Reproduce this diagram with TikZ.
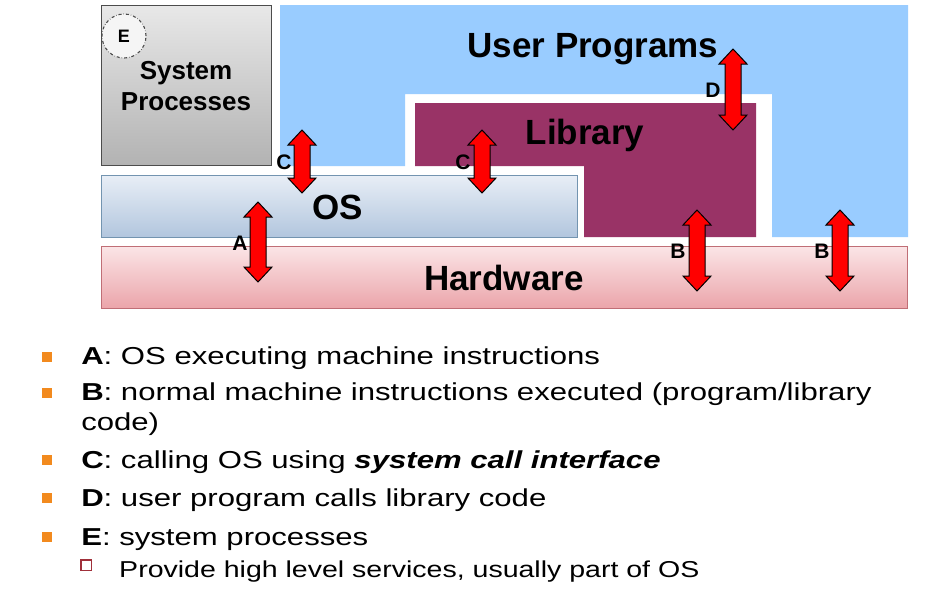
\documentclass[tikz,border=0pt]{standalone}
\usepackage{fontspec}
\setmainfont{Liberation Sans}
\begin{document}
\begin{tikzpicture}[x=1pt,y=-1pt,
  bigtext/.style={font=\fontsize{35}{40}\selectfont\bfseries, inner sep=0pt},
  arrlabel/.style={font=\fontsize{21}{23}\selectfont\bfseries, inner sep=0pt},
  arrowshape/.style={fill=red, draw=black, line width=1pt, line join=miter},
  bullettext/.style={font=\fontsize{24.5}{28}\selectfont, anchor=base west, inner sep=0pt, xscale=1.27},
  subtext/.style={font=\fontsize{23}{26}\selectfont, anchor=base west, inner sep=0pt, xscale=1.24},
  bulletsq/.style={fill=bulletorange, draw=none, minimum size=10.5pt, inner sep=0pt},
  subsq/.style={fill=white, draw=subred, line width=1.5pt, minimum size=10.5pt, inner sep=0pt}
]
\definecolor{userblue}{HTML}{99CCFF}
\definecolor{libmaroon}{HTML}{993366}
\definecolor{bulletorange}{HTML}{F28A1E}
\definecolor{subred}{HTML}{A0303A}
\useasboundingbox (0,0) rectangle (927,595);
\fill[white] (0,0) rectangle (927,595);

% User programs region
\fill[userblue] (280,5) -- (908,5) -- (908,237) -- (772,237) -- (772,94) -- (405,94) -- (405,166) -- (280,166) -- cycle;
% Library region
\fill[libmaroon] (415,103) -- (756,103) -- (756,237) -- (584,237) -- (584,166) -- (415,166) -- cycle;
% System processes
\draw[draw=black!70, line width=1pt, top color=black!9, bottom color=black!30] (101,5) rectangle (271,165);
% OS
\draw[draw={rgb,255:red,115;green,148;blue,176}, line width=1pt,
  top color={rgb,255:red,232;green,238;blue,246}, bottom color={rgb,255:red,178;green,198;blue,222}] (101,175) rectangle (577,237);
% Hardware
\draw[draw={rgb,255:red,192;green,110;blue,118}, line width=1pt,
  top color={rgb,255:red,251;green,229;blue,231}, bottom color={rgb,255:red,235;green,165;blue,170}] (101,246) rectangle (907,308);

% texts
\node[bigtext] (user) at (593,49) {User Programs};
\node[bigtext] (lib) at (585,135) {Library};
\node[bigtext] (os) at (338,207) {OS};
\node[bigtext] (hw) at (504,278) {Hardware};
\node[font=\fontsize{26}{31}\selectfont\bfseries, align=center, inner sep=0pt] (sys) at (186,86) {System\\Processes};
\node[circle, draw=black!70, dash dot, line width=1.1pt, fill=white!96!black, minimum size=44pt, inner sep=0pt,
  font=\fontsize{18}{20}\selectfont\bfseries] (E) at (124,36) {E};

% double block arrows
\newcommand{\dblarrow}[3]{%
  \draw[arrowshape] (#1,#2) -- ({#1+14},{#2+15}) -- ({#1+8},{#2+15}) -- ({#1+8},{#3-15}) -- ({#1+14},{#3-15})
    -- (#1,#3) -- ({#1-14},{#3-15}) -- ({#1-8},{#3-15}) -- ({#1-8},{#2+15}) -- ({#1-14},{#2+15}) -- cycle;}
\dblarrow{302}{130}{193}
\dblarrow{258}{202}{282}
\dblarrow{482}{130}{193}
\dblarrow{733}{49}{130}
\dblarrow{697}{210}{291}
\dblarrow{840}{210}{291}

\node[arrlabel] (lc1) at (284,162) {C};
\node[arrlabel] (la) at (240,243) {A};
\node[arrlabel] (lc2) at (463,162) {C};
\node[arrlabel] (ld) at (713,90) {D};
\node[arrlabel] (lb1) at (678,251) {B};
\node[arrlabel] (lb2) at (822,251) {B};

% bullets
\node[bulletsq] (b1) at (47,357) {};
\node[bulletsq] (b2) at (47,393) {};
\node[bulletsq] (b3) at (47,460) {};
\node[bulletsq] (b4) at (47,498) {};
\node[bulletsq] (b5) at (47,537) {};
\node[subsq] (s1) at (86,565) {};

\node[bullettext] (t1) at (81,364) {\textbf{A}: OS executing machine instructions};
\node[bullettext] (t2) at (81,400.5) {\textbf{B}: normal machine instructions executed (program/library};
\node[bullettext] (t2b) at (81,430.5) {code)};
\node[bullettext] (t3) at (81,468) {\textbf{C}: calling OS using \textbf{\textit{system call interface}}};
\node[bullettext] (t4) at (81,506) {\textbf{D}: user program calls library code};
\node[bullettext] (t5) at (81,545) {\textbf{E}: system processes};
\node[subtext] (t6) at (119,577) {Provide high level services, usually part of OS};
\end{tikzpicture}
\end{document}
